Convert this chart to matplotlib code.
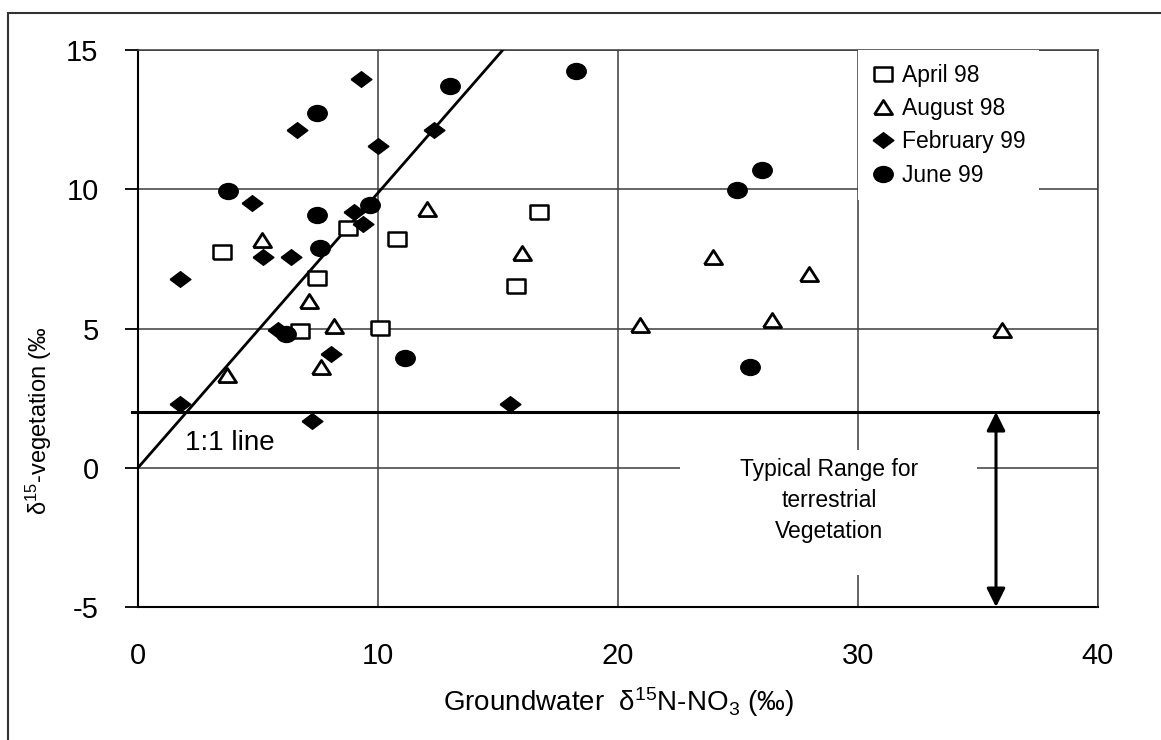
import matplotlib
matplotlib.use("Agg")
import matplotlib.pyplot as plt
from matplotlib.patches import Rectangle
from matplotlib.path import Path
from matplotlib.transforms import Affine2D

plt.rcParams['font.family'] = ['Liberation Sans', 'DejaVu Sans']
plt.rcParams['mathtext.fontset'] = 'custom'
plt.rcParams['mathtext.rm'] = 'Liberation Sans'
plt.rcParams['mathtext.default'] = 'regular'
plt.rcParams['axes.unicode_minus'] = False

# data
april_x = [3.5, 6.74, 7.45, 8.74, 10.07, 10.8, 15.73, 16.7]
april_y = [7.75, 4.92, 6.82, 8.62, 5.03, 8.22, 6.53, 9.19]

august_x = [3.69, 5.18, 7.13, 7.64, 8.16, 12.06, 16.0, 20.93, 23.94, 26.41, 27.97, 36.0]
august_y = [3.34, 8.19, 5.97, 3.62, 5.1, 9.29, 7.72, 5.11, 7.57, 5.29, 6.95, 4.96]

feb_x = [1.75, 1.75, 4.73, 5.19, 5.84, 6.39, 6.64, 7.27, 8.06, 8.99, 9.31, 9.38, 10.0, 12.32, 15.48]
feb_y = [6.79, 2.3, 9.5, 7.57, 4.93, 7.57, 12.11, 1.69, 4.08, 9.2, 13.97, 8.75, 11.56, 12.11, 2.3]

june_x = [3.76, 6.16, 7.44, 7.44, 7.6, 9.68, 11.11, 13.01, 18.26, 24.95, 25.5, 26.02]
june_y = [9.92, 4.81, 12.73, 9.08, 7.89, 9.42, 3.94, 13.69, 14.23, 9.98, 3.62, 10.7]

series_labels = ['April 98', 'August 98', 'February 99', 'June 99']

one_to_one_x = [0, 15.2]
one_to_one_y = [0, 15]

veg_low, veg_high = -5, 2
x_ticks = [0, 10, 20, 30, 40]
y_ticks = [-5, 0, 5, 10, 15]

# slightly squashed marker shapes (the original image is stretched sideways)
sq_marker = Path([(-1, -0.82), (1, -0.82), (1, 0.82), (-1, 0.82), (-1, -0.82)])
tri_marker = Path([(-1, -0.78), (1, -0.78), (0, 0.78), (-1, -0.78)])
dia_marker = Path([(-1, 0), (0, 0.75), (1, 0), (0, -0.75), (-1, 0)])
ell_marker = Path.unit_circle().transformed(Affine2D().scale(1, 0.82))

fig = plt.figure(figsize=(11.61, 7.40), dpi=100)
ax = fig.add_axes([138/1161, 1-607/740, 960/1161, 557/740])

ax.plot(april_x, april_y, linestyle='none', marker=sq_marker, ms=12.5,
        mfc='white', mec='black', mew=1.8, label=series_labels[0], zorder=5)
ax.plot(august_x, august_y, linestyle='none', marker=tri_marker, ms=13,
        mfc='white', mec='black', mew=2.0, label=series_labels[1], zorder=5)
ax.plot(feb_x, feb_y, linestyle='none', marker=dia_marker, ms=15,
        mfc='black', mec='black', mew=1, label=series_labels[2], zorder=5)
ax.plot(june_x, june_y, linestyle='none', marker=ell_marker, ms=14,
        mfc='black', mec='black', mew=1, label=series_labels[3], zorder=5)

ax.plot(one_to_one_x, one_to_one_y, color='black', lw=2, zorder=4)
ax.plot([-0.25, 40], [veg_high, veg_high], color='black', lw=2.2, zorder=4, clip_on=False)

ax.text(1.95, 0.9, '1:1 line', fontsize=20, va='center', ha='left')

# text box for the vegetation range
ax.add_patch(Rectangle((22.6, -3.84), 12.36, 4.49, facecolor='white',
                       edgecolor='none', zorder=3))
ax.text(28.8, -1.18, 'Typical Range for\nterrestrial\nVegetation', fontsize=16.5,
        ha='center', va='center', linespacing=1.45, zorder=6)
ax.annotate('', xy=(35.75, veg_low), xytext=(35.75, veg_high),
            arrowprops=dict(arrowstyle='<|-|>', color='black', lw=2.2,
                            mutation_scale=28, shrinkA=0, shrinkB=0), zorder=6)

ax.set_xlim(0, 40)
ax.set_ylim(-5, 15)
ax.set_xticks(x_ticks)
ax.set_yticks(y_ticks)
ax.grid(True, color='#3c3c3c', lw=1.1)
ax.set_axisbelow(True)
for side in ['top', 'right']:
    ax.spines[side].set_color('#3c3c3c')
    ax.spines[side].set_linewidth(1.1)
for side in ['left', 'bottom']:
    ax.spines[side].set_linewidth(1.5)
ax.tick_params(axis='y', direction='out', length=9.4, width=1.3, pad=19, labelsize=21)
ax.tick_params(axis='x', length=0, pad=25, labelsize=21)

ax.set_xlabel('Groundwater  δ$^{15}$N-NO$_3$ (‰)', fontsize=20)
ax.xaxis.set_label_coords(0.5, -0.14)
ax.set_ylabel('δ$^{15}$-vegetation (‰', fontsize=17)
ax.yaxis.set_label_coords(-0.088, 0.335)

leg = ax.legend(loc='upper left', bbox_to_anchor=(0.75, 1.0), fontsize=16.5,
                frameon=True, fancybox=False, edgecolor='none', facecolor='white',
                framealpha=1, borderaxespad=0, handletextpad=0.3, handlelength=1.0,
                labelspacing=0.45, borderpad=0.6)

# outer border of the original figure
fig.add_artist(Rectangle((8/1161, -0.1), 1.2, 0.1 + 1 - 13/740, transform=fig.transFigure,
                         fill=False, edgecolor='#333333', lw=1.5))

fig.savefig('out.png', dpi=100)
